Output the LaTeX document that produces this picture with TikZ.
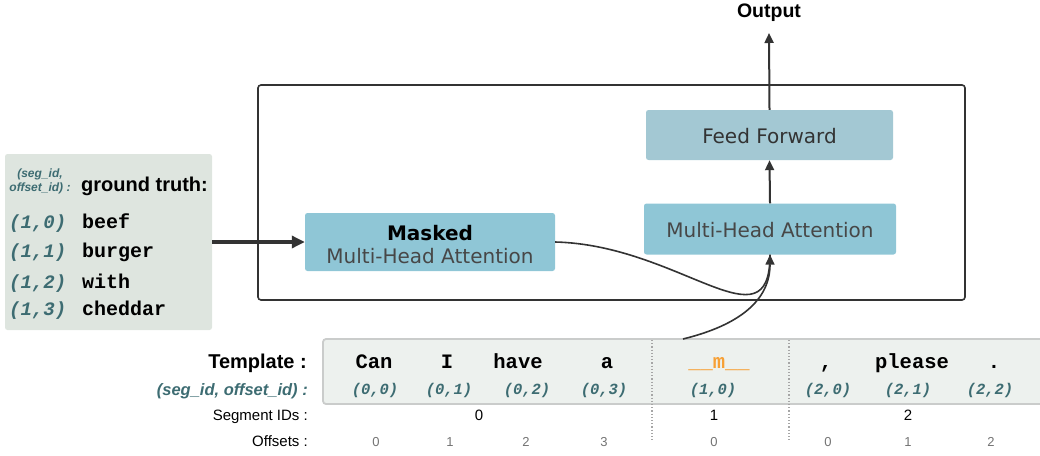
\documentclass[tikz,border=0pt]{standalone}
\usepackage{fontspec}
\setmainfont{Liberation Sans}
\newfontfamily\dejavu{DejaVu Sans}
\newfontfamily\cour{Liberation Mono}
\usetikzlibrary{arrows.meta}
\definecolor{teal1}{HTML}{3D6C72}
\definecolor{boxblue}{HTML}{8FC6D6}
\definecolor{ffblue}{HTML}{A3C8D3}
\definecolor{gtbg}{HTML}{DEE5DF}
\definecolor{tmplbg}{HTML}{EDF1EE}
\definecolor{tmplborder}{HTML}{CACCCB}
\definecolor{darkline}{HTML}{333333}
\definecolor{orng}{HTML}{F7A035}
\begin{document}
\begin{tikzpicture}[x=1pt,y=-1pt,
  blk/.style={fill=#1,rounded corners=2.5pt,inner sep=0pt},
  boxtxt/.style={font=\dejavu\fontsize{20}{22}\selectfont,text=black!72,inner sep=0pt,anchor=center},
  tok/.style={font=\cour\bfseries\fontsize{20.5}{22}\selectfont,inner sep=0pt,anchor=base},
  tup/.style={font=\cour\bfseries\itshape\fontsize{15.5}{17}\selectfont,text=teal1,inner sep=0pt,anchor=base},
  gtup/.style={font=\cour\bfseries\itshape\fontsize{19}{20}\selectfont,text=teal1,inner sep=0pt,anchor=base west},
  gtok/.style={font=\cour\bfseries\fontsize{20}{22}\selectfont,inner sep=0pt,anchor=base west},
  rlab/.style={inner sep=0pt,anchor=base east},
  segnum/.style={font=\fontsize{15}{16}\selectfont,inner sep=0pt,anchor=base},
  offnum/.style={font=\fontsize{13}{14}\selectfont,text=black!55,inner sep=0pt,anchor=base},
  arr/.style={draw=darkline,line width=2pt,-{Triangle[length=10pt,width=9pt]}},
  sep/.style={draw=black!35,line width=1.2pt,dotted}]
\useasboundingbox (0,0) rectangle (1040,455);

% big encoder box
\draw[darkline,line width=1.6pt,rounded corners=3pt] (258,85) rectangle (965,300);
\coordinate (bigbox) at (611,192);

% blocks
\node[blk=ffblue,minimum width=247pt,minimum height=50pt] (ff) at (769.5,135) {};
\node[boxtxt,text=black!80] (fft) at (769.5,136) {Feed Forward};
\node[blk=boxblue,minimum width=252pt,minimum height=51pt] (mha) at (770,229) {};
\node[boxtxt] (mhat) at (770,230) {Multi-Head Attention};
\node[blk=boxblue,minimum width=250pt,minimum height=58pt] (mm) at (430,242) {};
\node[boxtxt,font=\dejavu\bfseries\fontsize{20}{22}\selectfont,text=black] (mmt1) at (430,233) {Masked};
\node[boxtxt] (mmt2) at (430,256) {Multi-Head Attention};

% output
\node[font=\bfseries\fontsize{19.5}{20}\selectfont,inner sep=0pt] (out) at (769,12.5) {Output};
\coordinate (outtip) at (769,33);
\draw[arr] (ff.north) -- (outtip);
\draw[arr] (mha.north) -- (ff.south);

% ground truth box
\node[blk=gtbg,minimum width=207pt,minimum height=176pt] (gt) at (108.5,242) {};
\node[font=\bfseries\itshape\fontsize{12}{13}\selectfont,text=teal1,align=center,inner sep=0pt] (gtl) at (40,181) {(seg\_id,\\[1pt]offset\_id) :};
\node[font=\bfseries\fontsize{20}{22}\selectfont,inner sep=0pt,anchor=base west] (gtt) at (81,191) {ground truth:};
\node[gtup] (g0) at (9,228) {(1,0)};
\node[gtok] (w0) at (82,228) {beef};
\node[gtup] (g1) at (9,257) {(1,1)};
\node[gtok] (w1) at (82,257) {burger};
\node[gtup] (g2) at (9,288) {(1,2)};
\node[gtok] (w2) at (82,288) {with};
\node[gtup] (g3) at (9,315) {(1,3)};
\node[gtok] (w3) at (82,315) {cheddar};

\draw[draw=darkline,line width=3.2pt,-{Triangle[length=13pt,width=12pt]}] (gt.east |- mm.west) -- (mm.west);

% template box
\draw[fill=tmplbg,draw=tmplborder,line width=1.8pt,rounded corners=3pt] (323,339) rectangle (1050,404);
\coordinate (tmpl) at (683,339);
\draw[sep] (652,340) -- (652,441);
\draw[sep] (789,340) -- (789,441);

% connectors into MHA
\draw[darkline,line width=1.6pt] (mm.east) .. controls (680,245) and (770,350) .. (mha.south);
\draw[darkline,line width=1.6pt,-{Triangle[length=10pt,width=9pt]}] (tmpl) .. controls (740,325) and (770,300) .. (mha.south);

% labels
\node[rlab,font=\bfseries\fontsize{20}{21}\selectfont] (tl) at (307,368) {Template :};
\node[rlab,font=\bfseries\itshape\fontsize{16.5}{18}\selectfont,text=teal1] (sl) at (308,395) {(seg\_id, offset\_id) :};
\node[rlab,font=\fontsize{15}{16}\selectfont] (segl) at (308,420) {Segment IDs :};
\node[rlab,font=\fontsize{15}{16}\selectfont] (offl) at (308,446) {Offsets :};

% tokens
\node[tok] (t0) at (374,368) {Can};
\node[tok] (t1) at (447,368) {I};
\node[tok] (t2) at (518,368) {have};
\node[tok] (t3) at (607,368) {a};
\node[tok,text=orng] (t4) at (719,368) {\_\_m\_\_};
\node[tok] (t5) at (826,368) {,};
\node[tok] (t6) at (912,368) {please};
\node[tok] (t7) at (994,368) {.};

% tuples
\node[tup] (p0) at (375,394) {(0,0)};
\node[tup] (p1) at (449,394) {(0,1)};
\node[tup] (p2) at (527,394) {(0,2)};
\node[tup] (p3) at (604,394) {(0,3)};
\node[tup] (p4) at (713,394) {(1,0)};
\node[tup] (p5) at (828,394) {(2,0)};
\node[tup] (p6) at (908,394) {(2,1)};
\node[tup] (p7) at (990,394) {(2,2)};

% segment ids
\node[segnum] (s0) at (479,420) {0};
\node[segnum] (s1) at (714,420) {1};
\node[segnum] (s2) at (908,420) {2};

% offsets
\node[offnum] (o0) at (376,446) {0};
\node[offnum] (o1) at (450,446) {1};
\node[offnum] (o2) at (526,446) {2};
\node[offnum] (o3) at (604,446) {3};
\node[offnum] (o4) at (714,446) {0};
\node[offnum] (o5) at (828,446) {0};
\node[offnum] (o6) at (908,446) {1};
\node[offnum] (o7) at (991,446) {2};
\end{tikzpicture}
\end{document}
